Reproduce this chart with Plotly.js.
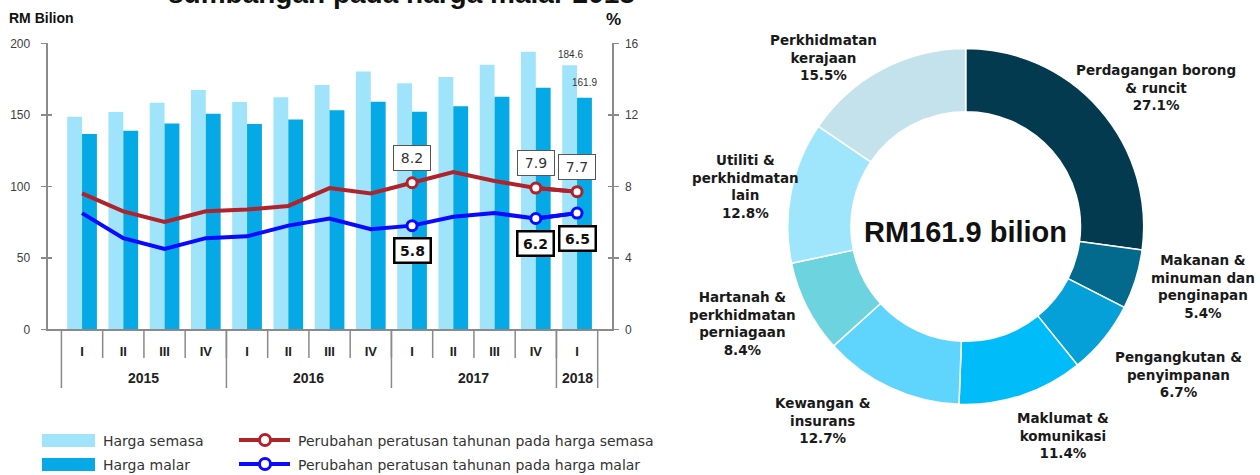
<!DOCTYPE html>
<html><head><meta charset="utf-8">
<script src="https://cdn.plot.ly/plotly-3.0.1.min.js"></script>
<style>html,body{margin:0;padding:0;background:#fff}#chart{width:1260px;height:475px}</style>
</head><body><div id="chart"></div>
<script>
// ---------- data ----------
const years = ['2015','2015','2015','2015','2016','2016','2016','2016','2017','2017','2017','2017','2018'];
const quarters = ['I','II','III','IV','I','II','III','IV','I','II','III','IV','I'];
const hargaSemasa = [148.7,152.0,158.5,167.3,158.9,162.2,170.8,180.2,172.0,176.4,185.0,194.1,184.6];
const hargaMalar  = [136.6,138.9,144.0,150.8,143.6,146.8,153.1,159.2,152.2,155.9,162.7,169.0,161.9];
const pctSemasa = [7.6,6.6,6.0,6.6,6.7,6.9,7.9,7.6,8.2,8.8,8.3,7.9,7.7];
const pctMalar  = [6.5,5.1,4.5,5.1,5.2,5.8,6.2,5.6,5.8,6.3,6.5,6.2,6.5];
const markedIdx = [8,11,12];
const barNames = ['Harga semasa','Harga malar'];
const lineNames = ['Perubahan peratusan tahunan pada harga semasa','Perubahan peratusan tahunan pada harga malar'];
const sectors = ['Perdagangan borong<br>& runcit','Makanan &<br>minuman dan<br>penginapan','Pengangkutan &<br>penyimpanan','Maklumat &<br>komunikasi','Kewangan &<br>insurans','Hartanah &<br>perkhidmatan<br>perniagaan','Utiliti &<br>perkhidmatan<br>lain','Perkhidmatan<br>kerajaan'];
const shares = [27.1,5.4,6.7,11.4,12.7,8.4,12.8,15.5];
const titleText = 'sumbangan pada harga malar 2018';

// ---------- styles / layout positions ----------
const sectorColors = ['#033a4f','#036a8d','#05a0d8','#00bdf9','#5fd4fc','#6dd3df','#9fe5fc','#c4e2ec'];
const labelPos = [[1156,88],[1203,286],[1178,374],[1063,435],[823,420],[742,323],[745,186],[823,57]];
const W = 1260, H = 475;
const px = x => x / W, py = y => 1 - y / H;
const xdom = [px(47.6), px(611.5)], ydom = [py(329.3), py(43.3)];
const cLight = '#a0e4fc', cDark = '#05a9e5', cRed = '#b0232a', cBlue = '#0a0aff';
const fNum = 'Liberation Sans, Arial, sans-serif';
const fLbl = 'DejaVu Sans, sans-serif';
const axisGray = '#8a8a8a';
const keys = years.map((y, i) => y + ' ' + quarters[i]);
const markOnly = arr => arr.map((v, i) => markedIdx.includes(i) ? v : null);
const n = keys.length;

const traces = [
  {type:'bar', x:keys, y:hargaSemasa, name:barNames[0], marker:{color:cLight}, showlegend:false, hoverinfo:'skip'},
  {type:'bar', x:keys, y:hargaMalar, name:barNames[1], marker:{color:cDark}, showlegend:false, hoverinfo:'skip'},
  {type:'scatter', mode:'lines', x:keys, y:pctSemasa, yaxis:'y2', line:{color:cRed, width:4}, showlegend:false, hoverinfo:'skip'},
  {type:'scatter', mode:'lines', x:keys, y:pctMalar, yaxis:'y2', line:{color:cBlue, width:4}, showlegend:false, hoverinfo:'skip'},
  {type:'scatter', mode:'lines+markers', x:keys, y:markOnly(pctSemasa), yaxis:'y2', connectgaps:false, name:lineNames[0], showlegend:false,
   line:{color:cRed, width:4}, marker:{size:10, color:'#fff', line:{color:cRed, width:3}}, hoverinfo:'skip'},
  {type:'scatter', mode:'lines+markers', x:keys, y:markOnly(pctMalar), yaxis:'y2', connectgaps:false, name:lineNames[1], showlegend:false,
   line:{color:cBlue, width:4}, marker:{size:10, color:'#fff', line:{color:cBlue, width:3}}, hoverinfo:'skip'},
  {type:'scatter', x:[], y:[], yaxis:'y3', showlegend:false, hoverinfo:'skip'},
  {type:'scatter', x:[], y:[], yaxis:'y4', showlegend:false, hoverinfo:'skip'},
  {type:'pie', values:shares, labels:sectors, sort:false, direction:'clockwise', rotation:0, hole:0.645,
   textinfo:'none', showlegend:false, hoverinfo:'skip',
   marker:{colors:sectorColors, line:{color:'#fff', width:1.5}},
   domain:{x:[px(787.7), px(1143.7)], y:[py(404.5), py(48.5)]}}
];

const annotations = [];
const shapes = [];
// cut-off title
annotations.push({text:'<b>' + titleText + '</b>', xref:'paper', yref:'paper', x:px(401.7), y:py(-7), xanchor:'center', yanchor:'middle',
  showarrow:false, font:{family:fNum, size:28, color:'#111'}});
annotations.push({text:'<b>RM Bilion</b>', xref:'paper', yref:'paper', x:px(7), y:py(18), xanchor:'left', yanchor:'middle',
  showarrow:false, font:{family:fNum, size:14, color:'#111'}});
annotations.push({text:'<b>%</b>', xref:'paper', yref:'paper', x:px(613), y:py(19), xanchor:'center', yanchor:'middle',
  showarrow:false, font:{family:fNum, size:17, color:'#111'}});
// last bar values
const last = n - 1;
annotations.push({text:hargaSemasa[last].toFixed(1), x:last, y:hargaSemasa[last], xref:'x', yref:'y', xshift:-7, yshift:11, yanchor:'middle',
  showarrow:false, font:{family:fNum, size:10, color:'#333'}});
annotations.push({text:hargaMalar[last].toFixed(1), x:last, y:hargaMalar[last], xref:'x', yref:'y', xshift:7, yshift:15, yanchor:'middle',
  showarrow:false, font:{family:fNum, size:10, color:'#333'}});
// line value labels
markedIdx.forEach(i => {
  annotations.push({text:pctSemasa[i].toFixed(1), x:i, y:pctSemasa[i], xref:'x', yref:'y2', yshift:25, yanchor:'middle',
    showarrow:false, bgcolor:'#fff', bordercolor:'#555', borderwidth:1, borderpad:4, width:28,
    font:{family:fLbl, size:14, color:'#333'}});
  annotations.push({text:'<b>' + pctMalar[i].toFixed(1) + '</b>', x:i, y:pctMalar[i], xref:'x', yref:'y2', yshift:-25, yanchor:'middle',
    showarrow:false, bgcolor:'#fff', bordercolor:'#000', borderwidth:2.5, borderpad:3, width:28,
    font:{family:fLbl, size:14, color:'#111'}});
});
// year group labels + dividers
const groups = [];
years.forEach((y, i) => {
  if (!groups.length || groups[groups.length - 1].y !== y) groups.push({y:y, s:i, e:i});
  else groups[groups.length - 1].e = i;
});
groups.forEach(g => {
  annotations.push({text:'<b>' + g.y + '</b>', x:(g.s + g.e) / 2, xref:'x', y:py(378), yref:'paper', yanchor:'middle',
    showarrow:false, font:{family:fNum, size:14, color:'#222'}});
  shapes.push({type:'line', xref:'x', yref:'paper', x0:g.s - 0.5, x1:g.s - 0.5, y0:py(329.3), y1:py(388), line:{color:axisGray, width:1.5}});
});
shapes.push({type:'line', xref:'x', yref:'paper', x0:last + 0.5, x1:last + 0.5, y0:py(329.3), y1:py(388), line:{color:axisGray, width:1.5}});
// quarter dividers
for (let i = 1; i < n; i++) {
  shapes.push({type:'line', xref:'x', yref:'paper', x0:i - 0.5, x1:i - 0.5, y0:py(329.3), y1:py(358), line:{color:axisGray, width:1.5}});
}
// pie labels
sectors.forEach((s, i) => {
  annotations.push({text:'<b>' + s + '<br>' + shares[i].toFixed(1) + '%</b>', xref:'paper', yref:'paper',
    x:px(labelPos[i][0]), y:py(labelPos[i][1]), xanchor:'center', yanchor:'middle', align:'center',
    showarrow:false, font:{family:fLbl, size:13.5, color:'#1a1a1a'}});
});
annotations.push({text:'<b>RM' + hargaMalar[last].toFixed(1) + ' bilion</b>', xref:'paper', yref:'paper', x:px(965), y:py(232),
  xanchor:'center', yanchor:'middle', showarrow:false, font:{family:fNum, size:29, color:'#111'}});
// legend (manual)
barNames.forEach((nm, i) => {
  shapes.push({type:'rect', xref:'paper', yref:'paper', x0:px(42), x1:px(95), y0:py(447 + i * 24), y1:py(434 + i * 24),
    fillcolor:[cLight, cDark][i], line:{width:0}});
  annotations.push({text:nm, xref:'paper', yref:'paper', x:px(101), y:py(441 + i * 24), xanchor:'left', yanchor:'middle',
    showarrow:false, font:{family:fLbl, size:14, color:'#333'}});
});
lineNames.forEach((nm, i) => {
  const c = [cRed, cBlue][i], yy = 440 + i * 24;
  shapes.push({type:'line', xref:'paper', yref:'paper', x0:px(239), x1:px(290), y0:py(yy), y1:py(yy), line:{color:c, width:4}});
  shapes.push({type:'circle', xref:'paper', yref:'paper', x0:px(259.5), x1:px(270.5), y0:py(yy + 5.5), y1:py(yy - 5.5),
    fillcolor:'#fff', line:{color:c, width:3}});
  annotations.push({text:nm, xref:'paper', yref:'paper', x:px(296), y:py(yy + 1), xanchor:'left', yanchor:'middle',
    showarrow:false, font:{family:fLbl, size:14, color:'#333'}});
});

const yTick = {ticks:'outside', ticklen:5, tickwidth:1.5, tickcolor:axisGray, showline:true, linecolor:axisGray, linewidth:2,
  showgrid:false, zeroline:false, tickfont:{family:fNum, size:12, color:'#404040'}, fixedrange:true};
const yIn = {ticks:'inside', ticklen:4, tickwidth:1.5, tickcolor:axisGray, showline:false, showgrid:false, zeroline:false,
  showticklabels:false, fixedrange:true};

const layout = {
  width:W, height:H, margin:{l:0, r:0, t:0, b:0}, paper_bgcolor:'#fff', plot_bgcolor:'rgba(0,0,0,0)',
  barmode:'group', bargap:0.28, bargroupgap:0,
  showlegend:false,
  xaxis:{type:'category', domain:xdom, anchor:'y', showline:true, linecolor:axisGray, linewidth:2,
    ticks:'', tickvals:keys, ticktext:quarters, ticklabelstandoff:9,
    tickfont:{family:fNum, size:13, weight:700, color:'#222'}, showgrid:false, zeroline:false, fixedrange:true},
  yaxis:Object.assign({}, yTick, {domain:ydom, range:[0,200], dtick:50, anchor:'x', ticklabelstandoff:8}),
  yaxis2:Object.assign({}, yTick, {overlaying:'y', side:'right', range:[0,16], dtick:4, anchor:'x', ticklabelstandoff:4}),
  yaxis3:Object.assign({}, yIn, {overlaying:'y', side:'left', range:[0,200], dtick:50, anchor:'x'}),
  yaxis4:Object.assign({}, yIn, {overlaying:'y', side:'right', range:[0,16], dtick:4, anchor:'x'}),
  annotations:annotations, shapes:shapes
};
Plotly.newPlot('chart', traces, layout, {displayModeBar:false, staticPlot:true});
</script></body></html>
